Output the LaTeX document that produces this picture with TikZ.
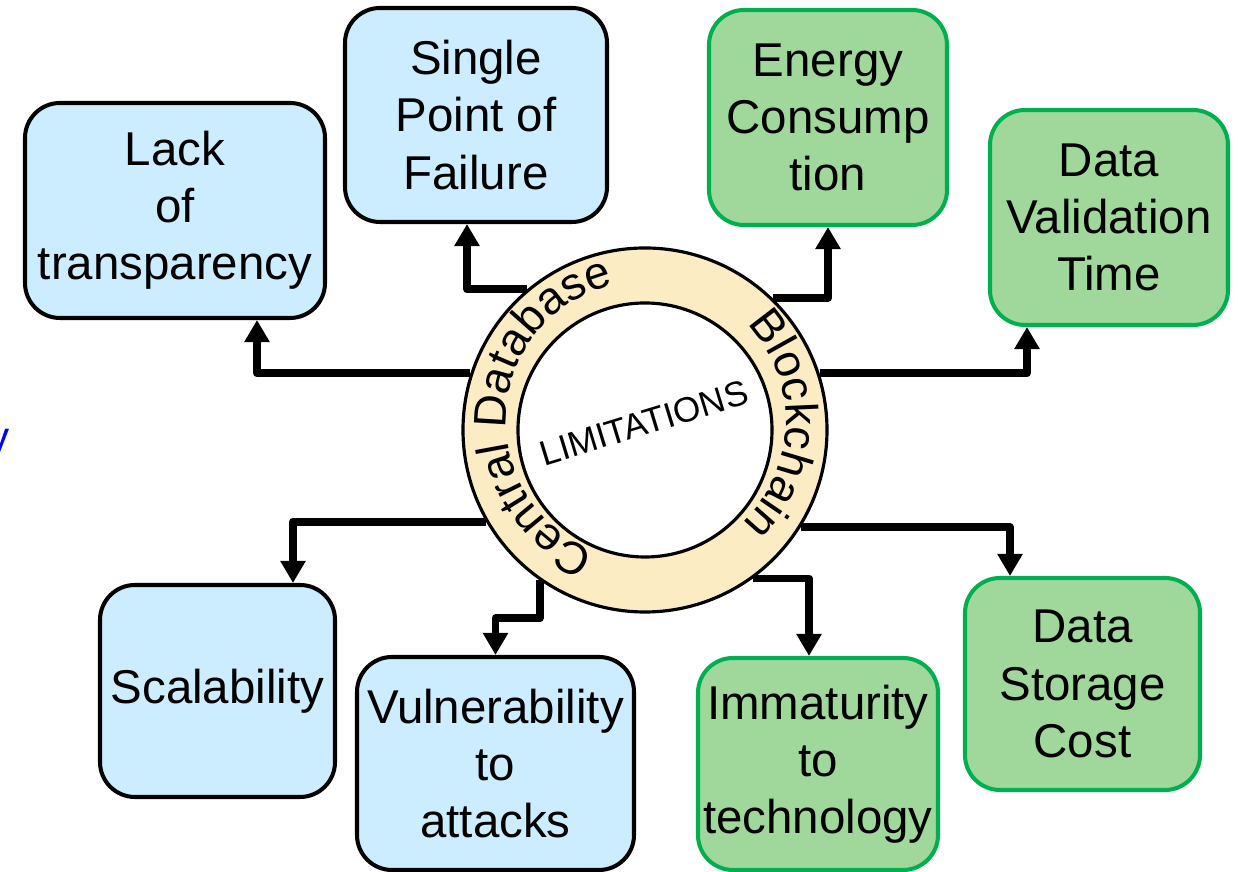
\documentclass[tikz,border=0pt]{standalone}
\usepackage{fontspec}
\setmainfont{Liberation Sans}
\usetikzlibrary{arrows.meta,decorations.text,calc}

\definecolor{celeste}{RGB}{204,236,255}
\definecolor{verdino}{RGB}{160,216,155}
\definecolor{verdescuro}{RGB}{0,176,80}
\definecolor{sabbia}{RGB}{251,236,196}

\begin{document}
\begin{tikzpicture}[x=0.2mm,y=0.2mm,>={Triangle[width=4.8mm,length=4.4mm]},
  box/.style={rounded corners=7mm,line width=2.3pt,align=center,inner sep=0pt,
    font=\fontsize{27}{32.5}\selectfont},
  blu/.style={box,draw=black,fill=celeste},
  verde/.style={box,draw=verdescuro,fill=verdino},
  freccia/.style={->,line width=4.5pt,line join=round}]

\useasboundingbox (0,0) rectangle (1238,872);

% Anello centrale
\node[circle,draw,line width=1.8pt,fill=sabbia,minimum size=72.8mm] (ring) at (645,442) {};
\node[circle,draw,line width=1.8pt,fill=white,minimum size=50.8mm] (core) at (645,442) {};
\node[rotate=17,font=\fontsize{20}{24}\selectfont] (lim) at (644,449) {LIMITATIONS};

% Testo sull'anello
\coordinate (mezzo) at (646,451);
\path[decorate,decoration={text along path,text align=center,
  text={|\fontsize{26}{31}\selectfont|Central Database}}]
  ($(mezzo)+(266:140)$) arc[start angle=266,end angle=86,radius=140];
\path[decorate,decoration={text along path,text align=center,
  text={|\fontsize{26}{31}\selectfont|Blockchain}}]
  ($(mezzo)+(88.5:140)$) arc[start angle=88.5,end angle=-91.5,radius=140];

% Riquadri (database centrale)
\node[blu,minimum width=60mm,minimum height=43mm] (ltr) at (175,661.5) {Lack\\of\\transparency};
\node[blu,minimum width=52.4mm,minimum height=42.8mm] (spf) at (476,757) {Single\\Point of\\Failure};
\node[blu,minimum width=47mm,minimum height=42.4mm] (sca) at (217.5,181) {Scalability};
\node[blu,minimum width=55.4mm,minimum height=42.6mm] (vta) at (495.5,108.5) {Vulnerability\\to\\attacks};

% Riquadri (blockchain)
\node[verde,minimum width=47.6mm,minimum height=43mm] (enc) at (828,754.5) {Energy\\Consump\\tion};
\node[verde,minimum width=47.6mm,minimum height=43mm] (dvt) at (1109,654.5) {Data\\Validation\\Time};
\node[verde,minimum width=48mm,minimum height=42.4mm] (imt) at (818,108) {Immaturity\\to\\technology};
\node[verde,minimum width=47mm,minimum height=42.4mm] (dsc) at (1082.5,188) {Data\\Storage\\Cost};

% Frecce
\draw[freccia] (ring.162) -| ([xshift=16.4mm]ltr.south);
\draw[freccia] (ring.130.6) -| ([xshift=-1.8mm]spf.south);
\draw[freccia] (ring.46.5) -| (enc.south);
\draw[freccia] (ring.18.3) -| ([xshift=-16.4mm]dvt.south);
\draw[freccia] (ring.210.7) -| ([xshift=15.1mm]sca.north);
\draw[freccia] (ring.235) -- ++(0,-38) -| (vta.north);
\draw[freccia] (ring.-54) -| ([xshift=-1.8mm]imt.north);
\draw[freccia] (ring.-32.2) -| ([xshift=-14.5mm]dsc.north);

% Frammento a sinistra
\node[text=blue,anchor=base east,inner sep=0pt,font=\fontsize{24}{28}\selectfont] (frammento) at (10,420) {y};

\end{tikzpicture}
\end{document}
